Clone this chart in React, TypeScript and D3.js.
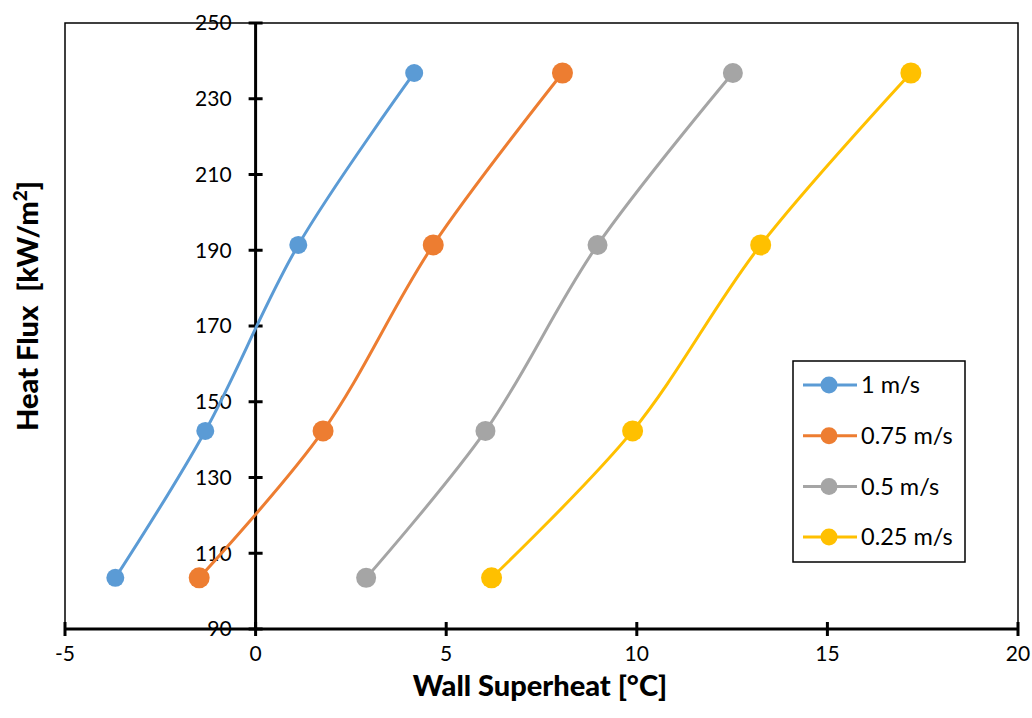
import React, { useEffect, useRef } from "react";
import * as d3 from "d3";

const seriesNames = ["1 m/s", "0.75 m/s", "0.5 m/s", "0.25 m/s"];
const colors = ["#5B9BD5", "#ED7D31", "#A5A5A5", "#FFC000"];
const heatFlux = [103.5, 142.3, 191.4, 236.8];
const superheat1 = [-3.68, -1.32, 1.12, 4.16];
const superheat075 = [-1.48, 1.77, 4.66, 8.05];
const superheat05 = [2.9, 6.03, 8.97, 12.52];
const superheat025 = [6.19, 9.89, 13.25, 17.19];
const xTicks = [-5, 0, 5, 10, 15, 20];
const yTicks = [90, 110, 130, 150, 170, 190, 210, 230, 250];

const allSeries = [superheat1, superheat075, superheat05, superheat025];
const markerR = [9, 10.5, 10, 10.5];

const FONT = "Lato, 'Open Sans', sans-serif";

const Chart = () => {
  const svgRef = useRef<SVGSVGElement>(null);

  useEffect(() => {
    const svg = d3.select(svgRef.current);
    svg.selectAll("*").remove();

    const left = 65, right = 1018, top = 23, bottom = 629;
    const x = d3.scaleLinear().domain([-5, 20]).range([left, right]);
    const y = d3.scaleLinear().domain([90, 250]).range([bottom, top]);

    // plot frame
    svg.append("rect")
      .attr("x", left).attr("y", top)
      .attr("width", right - left).attr("height", bottom - top)
      .attr("fill", "none").attr("stroke", "#000").attr("stroke-width", 1.5);

    // y axis at x = 0
    const x0 = x(0);
    svg.append("line")
      .attr("x1", x0).attr("x2", x0).attr("y1", top).attr("y2", bottom)
      .attr("stroke", "#000").attr("stroke-width", 3);
    yTicks.forEach((t) => {
      svg.append("line")
        .attr("x1", x0 - 7).attr("x2", x0 + 7).attr("y1", y(t)).attr("y2", y(t))
        .attr("stroke", "#000").attr("stroke-width", 3);
      svg.append("text")
        .attr("x", x0 - 24).attr("y", y(t)).attr("dy", "0.35em")
        .attr("text-anchor", "end")
        .attr("font-family", FONT).attr("font-size", 21)
        .text(t);
    });

    // x axis at y = 90
    svg.append("line")
      .attr("x1", left).attr("x2", right).attr("y1", bottom).attr("y2", bottom)
      .attr("stroke", "#000").attr("stroke-width", 3);
    xTicks.forEach((t) => {
      svg.append("line")
        .attr("x1", x(t)).attr("x2", x(t)).attr("y1", bottom - 7).attr("y2", bottom + 7)
        .attr("stroke", "#000").attr("stroke-width", 3);
      svg.append("text")
        .attr("x", x(t)).attr("y", 654).attr("dy", "0.35em")
        .attr("text-anchor", "middle")
        .attr("font-family", FONT).attr("font-size", 21)
        .text(t);
    });

    // axis titles
    svg.append("text")
      .attr("x", 540).attr("y", 696)
      .attr("text-anchor", "middle")
      .attr("font-family", FONT).attr("font-size", 29).attr("font-weight", 900)
      .text("Wall Superheat [°C]");

    const yt = svg.append("text")
      .attr("transform", "translate(38,306) rotate(-90)")
      .attr("text-anchor", "middle")
      .attr("font-family", FONT).attr("font-size", 29).attr("font-weight", 900)
      .attr("xml:space", "preserve")
      .style("white-space", "pre");
    yt.append("tspan").text("Heat Flux  [kW/m");
    yt.append("tspan").attr("font-size", 19).attr("dy", -11).text("2");
    yt.append("tspan").attr("dy", 11).text("]");

    // series
    const line = d3.line<[number, number]>()
      .x((d) => x(d[0])).y((d) => y(d[1]))
      .curve(d3.curveCatmullRom.alpha(0.5));

    allSeries.forEach((s, i) => {
      const pts: [number, number][] = s.map((v, j) => [v, heatFlux[j]]);
      svg.append("path")
        .attr("d", line(pts))
        .attr("fill", "none").attr("stroke", colors[i]).attr("stroke-width", 3);
      svg.selectAll(null)
        .data(pts).enter().append("circle")
        .attr("cx", (d) => x(d[0])).attr("cy", (d) => y(d[1]))
        .attr("r", markerR[i]).attr("fill", colors[i]);
    });

    // legend
    svg.append("rect")
      .attr("x", 793).attr("y", 361).attr("width", 172).attr("height", 201)
      .attr("fill", "#fff").attr("stroke", "#000").attr("stroke-width", 1.5);
    seriesNames.forEach((name, i) => {
      const ly = 385 + i * 50.7;
      svg.append("line")
        .attr("x1", 803).attr("x2", 857).attr("y1", ly).attr("y2", ly)
        .attr("stroke", colors[i]).attr("stroke-width", 3);
      svg.append("circle")
        .attr("cx", 829).attr("cy", ly).attr("r", 8.5).attr("fill", colors[i]);
      svg.append("text")
        .attr("x", 861).attr("y", ly).attr("dy", "0.35em")
        .attr("font-family", FONT).attr("font-size", 23.5)
        .text(name);
    });
  }, []);

  return (
    <svg
      ref={svgRef}
      width={1032}
      height={718}
      style={{ position: "absolute", left: 0, top: 0, background: "#fff" }}
    />
  );
};

const App = () => <Chart />;

export default App;
